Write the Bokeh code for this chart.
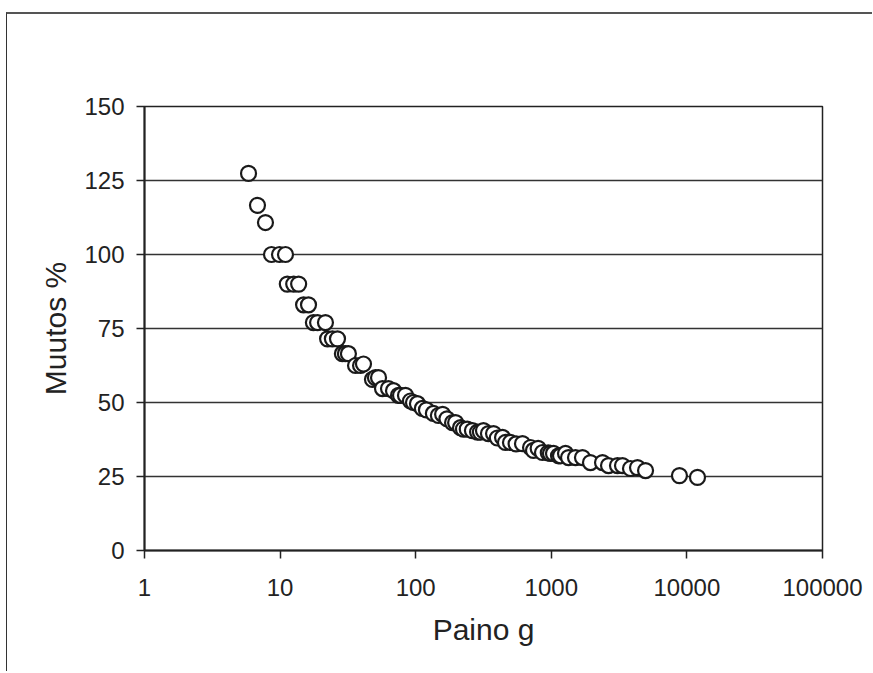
from bokeh.plotting import figure
from bokeh.models import Range1d, FixedTicker, PrintfTickFormatter, ColumnDataSource
from bokeh.embed import file_html
from bokeh.resources import INLINE

# Data
weight_g = [5.85, 6.81, 7.80, 8.64, 9.9, 10.96, 11.3, 12.6, 13.7, 14.9, 16.2, 17.6, 18.9,
            21.6, 22.4, 24.3, 26.5, 28.8, 30.3, 31.9, 36.0, 39.2, 41.2, 48.0, 50.5, 53.2,
            56.9, 63.0, 68.6, 74.7, 77.3, 84.1, 91.5, 96.3, 103, 112, 120, 135, 147, 158,
            170, 187, 197, 214, 225, 240, 262, 286, 300, 316, 344, 375, 400, 437, 459, 500,
            550, 613, 703, 739, 800, 861, 950, 986, 1038, 1130, 1169, 1273, 1340, 1508,
            1698, 1945, 2386, 2642, 3077, 3350, 3837, 4323, 4955, 8810, 11970]
change_pct = [127.4, 116.6, 110.8, 100, 100, 100, 90, 90, 90, 83, 83, 77, 77,
              77, 71.5, 71.5, 71.5, 66.5, 66.5, 66.5, 62.5, 62.5, 63, 57.8, 58.4, 58.4,
              54.7, 54.7, 54, 52.4, 52.4, 52.4, 50.5, 50, 49.6, 48, 47.5, 46.3, 45.6, 46,
              44.5, 43.2, 43.2, 41.5, 41, 41, 40.5, 40, 40, 40.5, 39.5, 39.5, 38, 38.2, 36.5, 36.5,
              36, 36.1, 34.8, 33.8, 34.5, 33.1, 33, 32.8, 32.8, 32, 32, 32.8, 31.4, 31.4,
              31.4, 29.7, 29.7, 28.7, 28.7, 28.7, 27.7, 28, 27, 25.3, 24.7]

x_ticks = [1, 10, 100, 1000, 10000, 100000]
y_ticks = [0, 25, 50, 75, 100, 125, 150]

FONT = "Liberation Sans"
INK = "#222222"

p = figure(width=866, height=659, x_axis_type="log",
           x_range=Range1d(1, 100000), y_range=Range1d(0, 150),
           output_backend="svg", toolbar_location=None,
           min_border_left=137, min_border_right=51,
           min_border_top=92, min_border_bottom=123)

p.styles = {"border-left": "1px solid #333333", "border-top": "2px solid #555555",
            "margin-left": "6px", "margin-top": "12px"}

p.background_fill_color = "white"
p.border_fill_color = "white"
p.outline_line_color = INK
p.outline_line_width = 1.5

src = ColumnDataSource(dict(x=weight_g, y=change_pct))
p.scatter("x", "y", source=src, marker="circle", size=15,
          fill_color="white", line_color="#1a1a1a", line_width=2.2)

# Axes
p.xaxis.ticker = FixedTicker(ticks=x_ticks, minor_ticks=[])
p.xaxis.formatter = PrintfTickFormatter(format="%d")
p.yaxis.ticker = FixedTicker(ticks=y_ticks, minor_ticks=[])

for ax in (p.xaxis, p.yaxis):
    ax.axis_line_color = INK
    ax.axis_line_width = 2
    ax.major_tick_line_color = INK
    ax.major_tick_line_width = 1.5
    ax.major_tick_in = 0
    ax.major_tick_out = 8
    ax.minor_tick_line_color = None
    ax.major_label_text_font = FONT
    ax.major_label_text_font_size = "24px"
    ax.major_label_text_color = INK
    ax.axis_label_text_font = FONT
    ax.axis_label_text_font_size = "30px"
    ax.axis_label_text_font_style = "normal"
    ax.axis_label_text_color = INK

p.xaxis.axis_label = "Paino g"
p.yaxis.axis_label = "Muutos %"
p.xaxis.major_label_standoff = 20
p.yaxis.major_label_standoff = 12
p.xaxis.axis_label_standoff = 14
p.yaxis.axis_label_standoff = 9

# Grid
p.xgrid.grid_line_color = None
p.ygrid.ticker = FixedTicker(ticks=y_ticks, minor_ticks=[])
p.ygrid.grid_line_color = "#333333"
p.ygrid.grid_line_width = 1.5

open("out.html", "w").write(file_html(p, INLINE))
